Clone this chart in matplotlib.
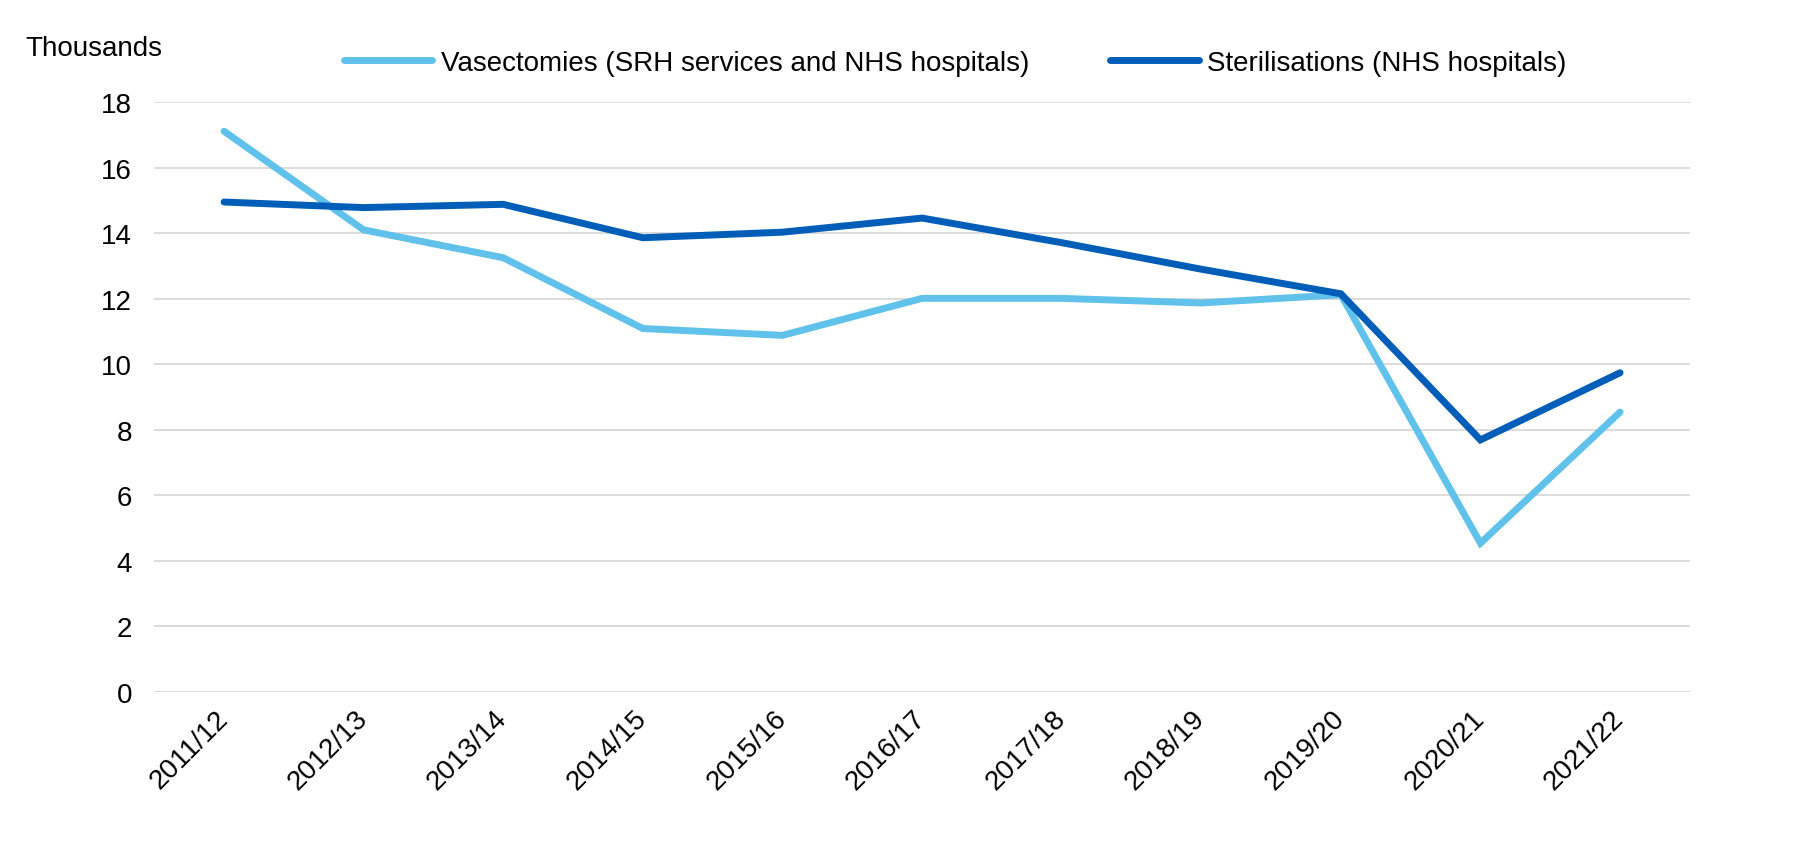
import matplotlib
matplotlib.use("Agg")
import matplotlib.pyplot as plt

plt.rcParams['font.family'] = ['Liberation Sans', 'DejaVu Sans']

# financial years
years = ['2011/12', '2012/13', '2013/14', '2014/15', '2015/16', '2016/17',
         '2017/18', '2018/19', '2019/20', '2020/21', '2021/22']

# thousands
vasectomies = [17.11, 14.10, 13.25, 11.09, 10.88, 12.01, 12.01, 11.87, 12.12, 4.54, 8.54]
sterilisations = [14.95, 14.78, 14.88, 13.86, 14.03, 14.46, 13.71, 12.90, 12.15, 7.69, 9.74]

yticks = [0, 2, 4, 6, 8, 10, 12, 14, 16, 18]


def main():
    fig = plt.figure(figsize=(18.19, 8.45), dpi=100)
    ax = fig.add_axes([0.0848, 0.180, 0.8442, 0.698])

    x = range(len(years))
    ax.plot(x, vasectomies, color='#60C1EA', lw=5, solid_capstyle='round',
            solid_joinstyle='miter', label='Vasectomies (SRH services and NHS hospitals)')
    ax.plot(x, sterilisations, color='#005EB8', lw=5, solid_capstyle='round',
            solid_joinstyle='miter', label='Sterilisations (NHS hospitals)')

    ax.set_xlim(-0.5, len(years) - 0.5)
    ax.set_ylim(0, 18)
    ax.set_yticks(yticks)
    ax.set_yticklabels([str(t) for t in yticks], fontsize=20)
    ax.set_xticks(list(x))
    ax.set_xticklabels(years, fontsize=20, rotation=45, ha='right', va='center',
                       rotation_mode='anchor')
    ax.tick_params(axis='both', length=0)
    ax.tick_params(axis='y', pad=16)
    ax.tick_params(axis='x', pad=16)

    ax.grid(axis='y', color='#D9D9D9', lw=1.3)
    ax.set_axisbelow(True)
    for s in ax.spines.values():
        s.set_visible(False)

    fig.text(0.014, 0.942, 'Thousands', fontsize=20, ha='left', va='center')

    fig.legend(loc='center', bbox_to_anchor=(0.525, 0.924), ncol=2, frameon=False,
               fontsize=20, handlelength=3.2, handletextpad=0.3, columnspacing=2.9)

    fig.savefig('out.png', dpi=100)


if __name__ == "__main__":
    main()
